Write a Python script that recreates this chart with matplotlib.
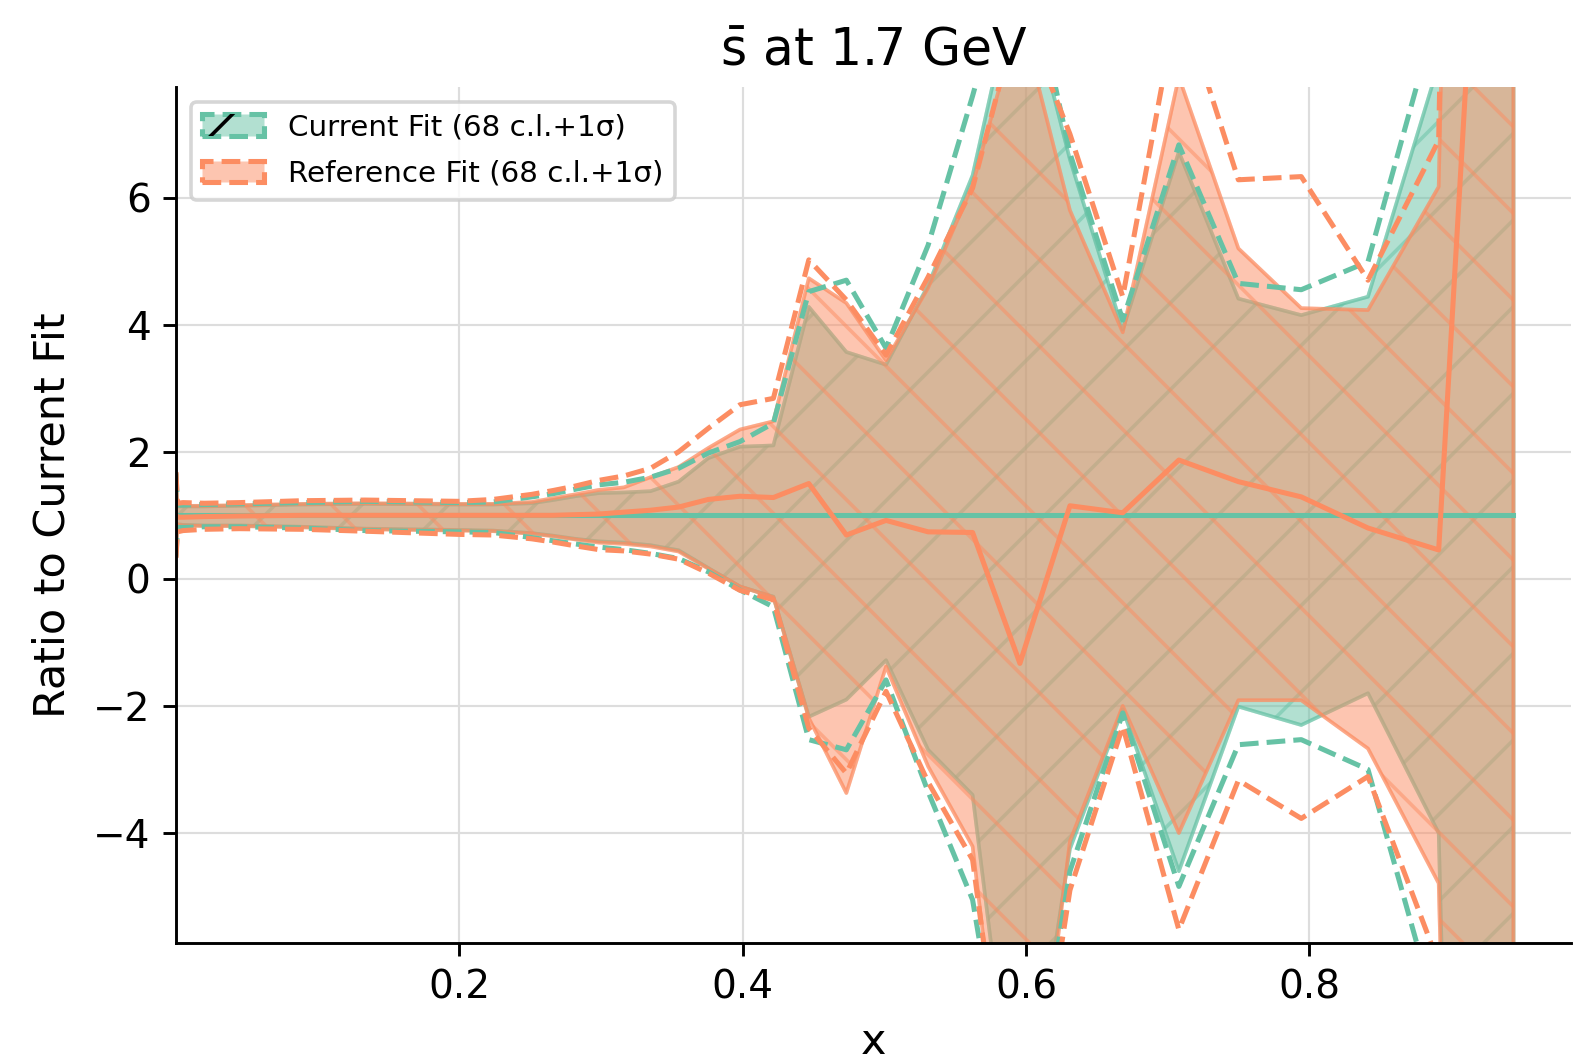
import matplotlib
matplotlib.use("Agg")
import matplotlib.pyplot as plt
from matplotlib.patches import Rectangle
from matplotlib.legend_handler import HandlerTuple
from matplotlib.colors import to_rgba

# ---------------- data ----------------
x = [0.00001, 0.001, 0.005, 0.02, 0.0447, 0.0891, 0.1334, 0.1995, 0.2239, 0.2512,
     0.2661, 0.2818, 0.2985, 0.3162, 0.3350, 0.3548, 0.3758, 0.3981, 0.4217, 0.4467,
     0.4732, 0.5012, 0.5309, 0.5623, 0.5957, 0.6310, 0.6683, 0.7079, 0.7499, 0.7943,
     0.8414, 0.8913, 0.9441]

# Current Fit (ratio to itself)
current_central = [1.0, 1.0, 1.0, 1.0, 1.0, 1.0, 1.0, 1.0, 1.0, 1.0,
                   1.0, 1.0, 1.0, 1.0, 1.0, 1.0, 1.0, 1.0, 1.0, 1.0,
                   1.0, 1.0, 1.0, 1.0, 1.0, 1.0, 1.0, 1.0, 1.0, 1.0,
                   1.0, 1.0, 1.0]
current_cl68_up = [1.62, 1.14, 1.14, 1.14, 1.15, 1.17, 1.18, 1.17, 1.17, 1.19,
                   1.24, 1.30, 1.35, 1.36, 1.38, 1.53, 1.90, 2.08, 2.10, 4.28,
                   3.57, 3.37, 4.62, 6.35, 9.7, 6.6, 3.92, 6.72, 4.41, 4.15,
                   4.44, 8.1, 60.0]
current_cl68_down = [0.40, 0.86, 0.85, 0.84, 0.84, 0.82, 0.79, 0.77, 0.76, 0.72,
                     0.68, 0.63, 0.59, 0.57, 0.53, 0.45, 0.17, -0.12, -0.28, -2.17,
                     -1.90, -1.28, -2.69, -3.40, -9.4, -4.25, -2.05, -4.6, -2.01, -2.30,
                     -1.80, -4.0, -50.0]
current_sigma_up = [1.66, 1.16, 1.16, 1.17, 1.18, 1.20, 1.22, 1.20, 1.21, 1.29,
                    1.34, 1.41, 1.48, 1.52, 1.60, 1.74, 1.98, 2.16, 2.45, 4.52,
                    4.70, 3.63, 5.25, 7.6, 10.3, 6.7, 4.07, 6.83, 4.65, 4.55,
                    4.99, 9.0, 70.0]
current_sigma_down = [0.35, 0.81, 0.81, 0.82, 0.82, 0.80, 0.76, 0.74, 0.73, 0.65,
                      0.60, 0.55, 0.50, 0.46, 0.40, 0.32, 0.11, -0.175, -0.44, -2.53,
                      -2.69, -1.59, -3.35, -5.05, -9.5, -4.6, -2.11, -4.84, -2.61, -2.53,
                      -3.0, -6.96, -60.0]

# Reference Fit (ratio to Current Fit)
reference_central = [1.0, 0.97, 0.97, 0.98, 0.99, 1.0, 1.0, 1.0, 1.0, 1.0,
                     1.0, 1.01, 1.02, 1.05, 1.08, 1.13, 1.25, 1.30, 1.28, 1.50,
                     0.69, 0.92, 0.74, 0.73, -1.33, 1.15, 1.04, 1.87, 1.53, 1.29,
                     0.80, 0.455, 20.7]
reference_cl68_up = [1.64, 1.15, 1.15, 1.15, 1.16, 1.18, 1.19, 1.18, 1.18, 1.21,
                     1.27, 1.33, 1.40, 1.44, 1.60, 1.76, 2.06, 2.35, 2.48, 4.73,
                     4.34, 3.44, 4.58, 6.2, 8.9, 5.8, 3.88, 7.9, 5.2, 4.26,
                     4.23, 6.17, 60.0]
reference_cl68_down = [0.36, 0.85, 0.84, 0.83, 0.83, 0.81, 0.78, 0.76, 0.75, 0.71,
                       0.67, 0.62, 0.57, 0.55, 0.51, 0.43, 0.16, -0.12, -0.29, -2.19,
                       -3.37, -1.38, -2.95, -4.21, -10.5, -4.13, -2.0, -4.0, -1.91, -1.91,
                       -2.67, -4.79, -50.0]
reference_sigma_up = [1.68, 1.19, 1.20, 1.19, 1.20, 1.23, 1.24, 1.22, 1.25, 1.33,
                      1.39, 1.46, 1.55, 1.62, 1.74, 2.00, 2.37, 2.74, 2.84, 5.02,
                      4.39, 3.52, 4.75, 6.15, 9.0, 7.0, 4.44, 9.2, 6.28, 6.33,
                      4.70, 6.9, 70.0]
reference_sigma_down = [0.33, 0.74, 0.76, 0.78, 0.79, 0.78, 0.75, 0.70, 0.69, 0.63,
                        0.58, 0.52, 0.46, 0.44, 0.39, 0.31, 0.09, -0.18, -0.33, -2.35,
                        -3.06, -1.77, -3.2, -4.42, -10.0, -4.9, -2.32, -5.52, -3.17, -3.77,
                        -3.11, -6.05, -60.0]

labels = ["Current Fit (68 c.l.+1σ)", "Reference Fit (68 c.l.+1σ)"]
title = r"$\bar{\mathrm{s}}$ at 1.7 GeV"
xlabel = "x"
ylabel = "Ratio to Current Fit"

# ---------------- styling ----------------
GREEN = "#66c2a5"
ORANGE = "#fc8d62"
DPI = 260
W, H = 1573, 1060
plt.rcParams["hatch.linewidth"] = 1.0
plt.rcParams["font.family"] = ["DejaVu Sans"]

fig = plt.figure(figsize=(W / DPI, H / DPI), dpi=DPI)
ax = fig.add_axes([176 / W, 1 - 943 / H, (1571 - 176) / W, (943 - 87) / H])

LW = 1.4


def draw_fit(cv, up, down, sup, sdown, color, hatch):
    ax.plot(x, cv, color=color, lw=LW, zorder=2)
    ax.fill_between(x, up, down, color=color, alpha=0.5, zorder=1)
    ax.fill_between(x, up, down, facecolor="none", edgecolor=color, alpha=0.5,
                    hatch=hatch, zorder=1)
    ax.plot(x, sup, color=color, ls="--", lw=LW, zorder=2)
    ax.plot(x, sdown, color=color, ls="--", lw=LW, zorder=2)


draw_fit(current_central, current_cl68_up, current_cl68_down,
         current_sigma_up, current_sigma_down, GREEN, "/")
draw_fit(reference_central, reference_cl68_up, reference_cl68_down,
         reference_sigma_up, reference_sigma_down, ORANGE, "\\")

ax.set_xlim(0.00001, 0.9847)
ax.set_ylim(-5.73, 7.74)
ax.set_xticks([0.2, 0.4, 0.6, 0.8])
ax.set_yticks([-4, -2, 0, 2, 4, 6])
ax.set_axisbelow(True)
ax.grid(True, color="#dddddd", lw=0.6)
for s in ("top", "right"):
    ax.spines[s].set_visible(False)
ax.tick_params(labelsize=10.8, direction="out")

ax.set_title(title, fontsize=14.0)
ax.set_xlabel(xlabel, fontsize=11.9, labelpad=4)
ax.set_ylabel(ylabel, fontsize=11.9, labelpad=5.5)


def handle(color, hatch):
    base = Rectangle((0, 0), 1, 1, facecolor=to_rgba(color, 0.5),
                     edgecolor=color, linestyle="--", lw=LW)
    if hatch is None:
        return (base,)
    hat = Rectangle((0, 0), 1, 1, facecolor="none", edgecolor="black",
                    lw=0, hatch=hatch)
    return (base, hat)


leg = ax.legend([handle(GREEN, "/"), handle(ORANGE, None)], labels,
                handler_map={tuple: HandlerTuple(ndivide=1, pad=0)},
                loc="upper left", fontsize=8.15, framealpha=0.8,
                labelspacing=0.62, handlelength=2.1, handleheight=0.75)

fig.savefig("out.png", dpi=DPI)
